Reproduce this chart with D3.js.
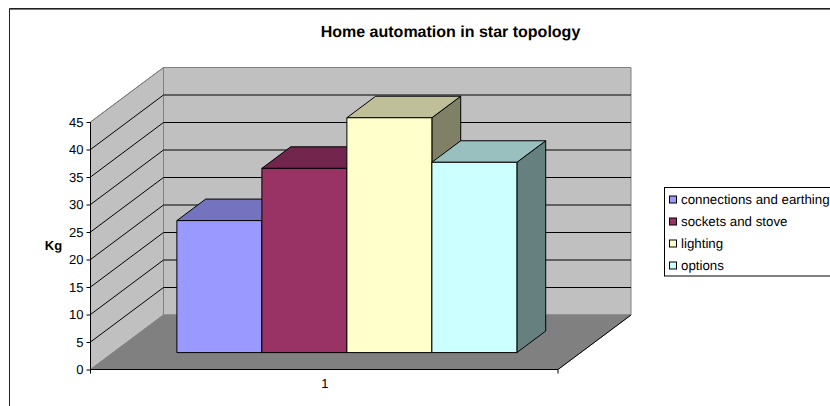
<!DOCTYPE html>
<html>
<head>
<meta charset="utf-8">
<script src="https://cdn.jsdelivr.net/npm/d3@7/dist/d3.min.js"></script>
<style>
html, body { margin: 0; padding: 0; background: #fff; }
svg { display: block; font-family: "Liberation Sans", Arial, sans-serif; text-rendering: geometricPrecision; }
</style>
</head>
<body>
<svg id="chart" width="830" height="406"></svg>
<script>
const categories = ["1"];
const seriesNames = ["connections and earthing", "sockets and stove", "lighting", "options"];
const seriesValues = [24, 33.5, 42.7, 34.6];
const tickValues = [0, 5, 10, 15, 20, 25, 30, 35, 40, 45];
const frontColors = ["#9999ff", "#993366", "#ffffcc", "#ccffff"];
const topColors = ["#7373bf", "#73264d", "#bfbf99", "#99bfbf"];
const sideColors = ["#4d4d80", "#4d1a33", "#808066", "#668080"];

const svg = d3.select("#chart");

// Front plane scales; depth shifts every point along the oblique floor edge.
const y = d3.scaleLinear().domain([0, 45]).range([369.5, 122]);
const xCat = d3.scaleBand().domain(categories).range([90.5, 558]).paddingInner(0).paddingOuter(0.1875);
const xSeries = d3.scaleBand().domain(seriesNames).range([xCat("1"), xCat("1") + xCat.bandwidth()]);
const depth = d3.scaleLinear().domain([0, 1]).range([0, 73]);
const depthY = d3.scaleLinear().domain([0, 1]).range([0, -54.5]);
const barFront = 0.31, barBack = 0.705;

const pt = (x, v, d) => [x + depth(d), y(v) + depthY(d)];
const poly = pts => d3.line()(pts) + "Z";

// Outer chart frame: dark line with a softer inner edge
svg.append("rect").attr("x", 9.5).attr("y", 9.5).attr("width", 840).attr("height", 420)
  .attr("fill", "#fff").attr("stroke", "#777");
svg.append("path").attr("fill", "none").attr("stroke", "#222")
  .attr("d", "M9.5,430V8.5H850");

// Walls and floor
const x0 = xCat.range()[0], x1 = xCat.range()[1];
svg.append("path").attr("d", poly([pt(x0, 0, 1), pt(x1, 0, 1), pt(x1, 45, 1), pt(x0, 45, 1)]))
  .attr("fill", "#c0c0c0").attr("stroke", "#808080");
svg.append("path").attr("d", poly([pt(x0, 0, 0), pt(x0, 0, 1), pt(x0, 45, 1), pt(x0, 45, 0)]))
  .attr("fill", "#c0c0c0").attr("stroke", "#808080");
svg.append("path").attr("d", poly([pt(x0, 0, 0), pt(x0, 0, 1), pt(x1, 0, 1), pt(x1, 0, 0)]))
  .attr("fill", "#808080").attr("stroke", "#808080");

// Gridlines across the side wall and back wall
tickValues.slice(1).forEach(v => {
  const col = v === 45 ? "#808080" : "#000";
  svg.append("path").attr("fill", "none").attr("stroke", col)
    .attr("d", d3.line()([pt(x0, v, 0), pt(x0, v, 1), pt(x1, v, 1)]));
});
// Floor's right edge
svg.append("path").attr("fill", "none").attr("stroke", "#000")
  .attr("d", d3.line()([pt(x1, 0, 0), pt(x1, 0, 1)]));

// Value axis
svg.append("g").attr("transform", `translate(${x0},0)`)
  .call(d3.axisLeft(y).tickValues(tickValues).tickSize(4).tickPadding(3))
  .call(g => g.select(".domain").attr("stroke", "#000").attr("d", `M0,${y(45)}V${y(0)}`))
  .call(g => g.selectAll("text").attr("font-size", 13).attr("font-family", "inherit").attr("fill", "#000"));

// Category axis
const xMid = x0 + (x1 - x0) / 2;
svg.append("g").attr("transform", `translate(0,${y(0)})`)
  .call(d3.axisBottom(d3.scalePoint().domain(categories).range([xMid, xMid]))
    .tickSize(0).tickPadding(9))
  .call(g => g.select(".domain").remove())
  .call(g => g.selectAll("text").attr("font-size", 13).attr("font-family", "inherit").attr("fill", "#000"));
svg.append("path").attr("fill", "none").attr("stroke", "#000")
  .attr("d", `M${x0},${y(0)}H${x1}` + `M${x0},${y(0)}v4M${x1},${y(0)}v4`);

// Bars: side and top faces behind, front face last
seriesNames.forEach((name, i) => {
  const l = xSeries(name), r = l + xSeries.bandwidth(), v = seriesValues[i];
  const g = svg.append("g").attr("stroke", "#000").attr("stroke-linejoin", "round");
  g.append("path").attr("fill", sideColors[i])
    .attr("d", poly([pt(r, 0, barFront), pt(r, 0, barBack), pt(r, v, barBack), pt(r, v, barFront)]));
  g.append("path").attr("fill", topColors[i])
    .attr("d", poly([pt(l, v, barFront), pt(l, v, barBack), pt(r, v, barBack), pt(r, v, barFront)]));
  g.append("path").attr("fill", frontColors[i])
    .attr("d", poly([pt(l, 0, barFront), pt(r, 0, barFront), pt(r, v, barFront), pt(l, v, barFront)]));
});

// Title and axis title
svg.append("text").attr("x", 450.5).attr("y", 37).attr("text-anchor", "middle")
  .attr("font-size", 16).attr("font-weight", "bold").text("Home automation in star topology");
svg.append("text").attr("x", 53.5).attr("y", 250).attr("text-anchor", "middle")
  .attr("font-size", 13).attr("font-weight", "bold").text("Kg");

// Legend
const legend = svg.append("g");
legend.append("rect").attr("x", 664.5).attr("y", 187.5).attr("width", 180).attr("height", 88.5)
  .attr("fill", "#fff").attr("stroke", "#000");
seriesNames.forEach((name, i) => {
  const cy = 199.5 + i * 22;
  legend.append("rect").attr("x", 669.5).attr("y", cy - 3.5).attr("width", 7).attr("height", 7)
    .attr("fill", frontColors[i]).attr("stroke", "#000");
  legend.append("text").attr("x", 681).attr("y", cy + 4.5).attr("font-size", 13.3).text(name);
});
</script>
</body>
</html>
